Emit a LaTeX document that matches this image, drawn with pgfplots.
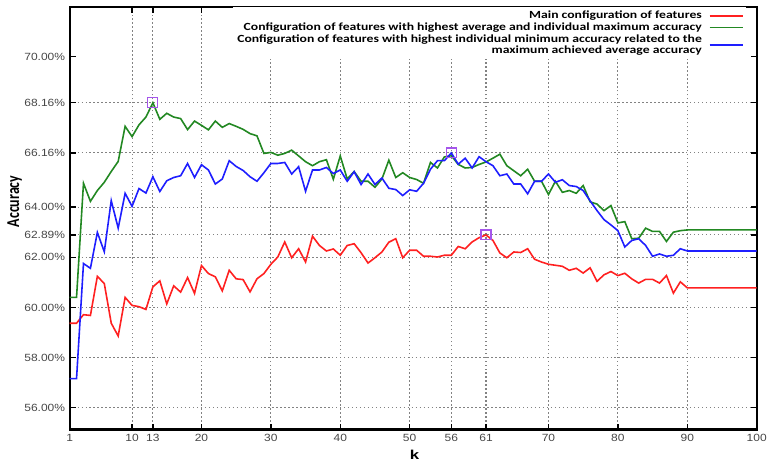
\documentclass[border=0pt]{standalone}
\usepackage{fontspec}
\setmainfont{Liberation Sans}
\newfontfamily\tickfont[FakeStretch=1.15]{Liberation Sans}
\newfontfamily\legfont[FakeStretch=1.25]{Carlito}
\newfontfamily\labfont{Carlito}
\newfontfamily\kfont[FakeStretch=1.3]{Liberation Sans}
\usepackage{pgfplots}
\pgfplotsset{compat=1.18}
\usepackage{pgfplotstable}
\usepackage{graphicx}

\definecolor{cred}{RGB}{255,32,32}
\definecolor{cgreen}{RGB}{34,136,34}
\definecolor{cblue}{RGB}{30,30,255}
\definecolor{cpurple}{RGB}{165,85,235}
\definecolor{cgrid}{RGB}{130,130,130}
\definecolor{ctick}{RGB}{70,70,70}

\pgfplotstableread{
k v
1 59.37
2 59.37
3 59.71
4 59.68
5 61.24
6 60.95
7 59.37
8 58.86
9 60.40
10 60.08
11 60.03
12 59.92
13 60.82
14 61.06
15 60.14
16 60.86
17 60.61
18 61.19
19 60.56
20 61.67
21 61.35
22 61.22
23 60.66
24 61.48
25 61.14
26 61.11
27 60.62
28 61.14
29 61.35
30 61.72
31 62.01
32 62.61
33 61.98
34 62.34
35 61.81
36 62.84
37 62.47
38 62.25
39 62.33
40 62.08
41 62.47
42 62.54
43 62.18
44 61.77
45 61.98
46 62.21
47 62.60
48 62.74
49 61.98
50 62.28
51 62.28
52 62.04
53 62.04
54 62.01
55 62.08
56 62.08
57 62.43
58 62.34
59 62.61
60 62.78
61 62.89
62 62.67
63 62.17
64 61.98
65 62.21
66 62.19
67 62.34
68 61.92
69 61.81
70 61.72
71 61.68
72 61.64
73 61.48
74 61.56
75 61.37
76 61.58
77 61.04
78 61.30
79 61.43
80 61.27
81 61.36
82 61.14
83 60.97
84 61.12
85 61.12
86 60.97
87 61.27
88 60.57
89 61.02
90 60.78
100 60.78
}\redtab

\pgfplotstableread{
k v
1 60.40
2 60.40
3 64.95
4 64.23
5 64.66
6 64.99
7 65.42
8 65.82
9 67.22
10 66.81
11 67.28
12 67.59
13 68.16
14 67.50
15 67.74
16 67.59
17 67.53
18 67.09
19 67.43
20 67.26
21 67.08
22 67.43
23 67.18
24 67.33
25 67.22
26 67.10
27 66.93
28 66.84
29 66.14
30 66.18
31 66.07
32 66.14
33 66.27
34 66.04
35 65.81
36 65.65
37 65.81
38 65.89
39 65.11
40 66.04
41 65.12
42 65.42
43 65.03
44 65.03
45 64.79
46 65.12
47 65.87
48 65.18
49 65.37
50 65.18
51 65.10
52 64.95
53 65.78
54 65.56
55 66.00
56 66.05
57 65.70
58 65.56
59 65.58
60 65.70
61 65.80
62 65.95
63 66.11
64 65.65
65 65.45
66 65.25
67 65.51
68 65.03
69 65.03
70 64.50
71 65.03
72 64.59
73 64.66
74 64.55
75 64.86
76 64.21
77 64.12
78 63.86
79 64.06
80 63.37
81 63.42
82 62.74
83 62.76
84 63.16
85 63.03
86 63.03
87 62.63
88 63.00
89 63.06
90 63.09
100 63.09
}\greentab

\pgfplotstableread{
k v
1 57.16
2 57.16
3 61.75
4 61.56
5 62.99
6 62.22
7 64.26
8 63.16
9 64.55
10 64.03
11 64.74
12 64.56
13 65.21
14 64.62
15 65.05
16 65.18
17 65.25
18 65.74
19 65.18
20 65.69
21 65.48
22 64.92
23 65.12
24 65.85
25 65.62
26 65.46
27 65.21
28 65.03
29 65.37
30 65.74
31 65.74
32 65.78
33 65.32
34 65.61
35 64.63
36 65.48
37 65.48
38 65.58
39 65.34
40 65.48
41 65.03
42 65.41
43 64.90
44 65.32
45 64.90
46 65.16
47 64.75
48 64.70
49 64.46
50 64.69
51 64.63
52 64.95
53 65.51
54 65.85
55 65.85
56 66.16
57 65.71
58 65.95
59 65.56
60 66.01
61 65.81
62 65.65
63 65.25
64 65.32
65 64.92
66 64.92
67 64.53
68 65.03
69 65.03
70 65.32
71 64.99
72 65.09
73 64.86
74 64.82
75 64.66
76 64.25
77 63.86
78 63.50
79 63.29
80 63.06
81 62.41
82 62.67
83 62.74
84 62.47
85 62.04
86 62.13
87 62.04
88 62.08
89 62.34
90 62.25
100 62.25
}\bluetab

\pgfplotstableread{
k v
13 68.16
56 66.16
61 62.89
}\marktab

\begin{document}
\begin{tikzpicture}
\begin{axis}[
  scale only axis, width=691pt, height=425pt,
  xmin=1, xmax=100, ymin=55.13, ymax=71.98,
  axis background/.style={draw=black, line width=2.2pt},
  xtick={1,10,13,20,30,40,50,56,61,70,80,90,100},
  xticklabels={1,10,13,20,30,40,50,56,61,70,80,90,100},
  ytick={56,58,60,62,62.89,64,66.16,68.16},
  yticklabels={56.00\%,58.00\%,60.00\%,62.00\%,62.89\%,64.00\%,66.16\%,68.16\%},
  extra y ticks={70}, extra y tick labels={70.00\%},
  extra y tick style={ymajorgrids=false},
  xmajorgrids=true, ymajorgrids=true,
  major grid style={cgrid, line width=1.1pt, dash pattern=on 1.4pt off 2.6pt},
  major tick style={line width=1.3pt, black},
  major tick length=6pt,
  tick label style={font=\tickfont\fontsize{10.5}{11}\selectfont, color=ctick},
  yticklabel style={xshift=-1pt},
  xticklabel style={yshift=-1pt},
  ylabel={\scalebox{1}[1.3]{\labfont\bfseries\fontsize{14}{15}\selectfont Accuracy}},
  ylabel style={at={(axis description cs:-0.08,0.54)}, anchor=center},
  xlabel={\kfont\bfseries\fontsize{13}{14}\selectfont k},
  xlabel style={at={(axis description cs:0.502,-0.06)}, anchor=center},
  legend style={at={(0.985,1.0)}, anchor=north east, draw=none, fill=white,
    font=\legfont\bfseries\fontsize{11}{11.4}\selectfont,
    cells={align=right}, inner sep=2pt, row sep=-1.5pt, column sep=5pt},
  legend cell align=right,
  legend plot pos=right,
  legend image code/.code={\draw[#1, line width=1.6pt] (0pt,0pt) -- (34pt,0pt);},
]
\addplot[cred, line width=1.6pt] table[x=k,y=v] {\redtab};
\addlegendentry{Main configuration of features}
\addplot[cgreen, line width=1.6pt] table[x=k,y=v] {\greentab};
\addlegendentry{Configuration of features with highest average and individual maximum accuracy}
\addplot[cblue, line width=1.6pt] table[x=k,y=v] {\bluetab};
\addlegendentry{Configuration of features with highest individual minimum accuracy related to the\\maximum achieved average accuracy}
\addplot[only marks, mark=square, mark size=5pt, cpurple, line width=1.1pt, mark options={draw=cpurple, fill=none}, forget plot] table[x=k,y=v] {\marktab};
\end{axis}
\path (-70pt,-35pt) rectangle (700pt,432pt);
\end{tikzpicture}
\end{document}
